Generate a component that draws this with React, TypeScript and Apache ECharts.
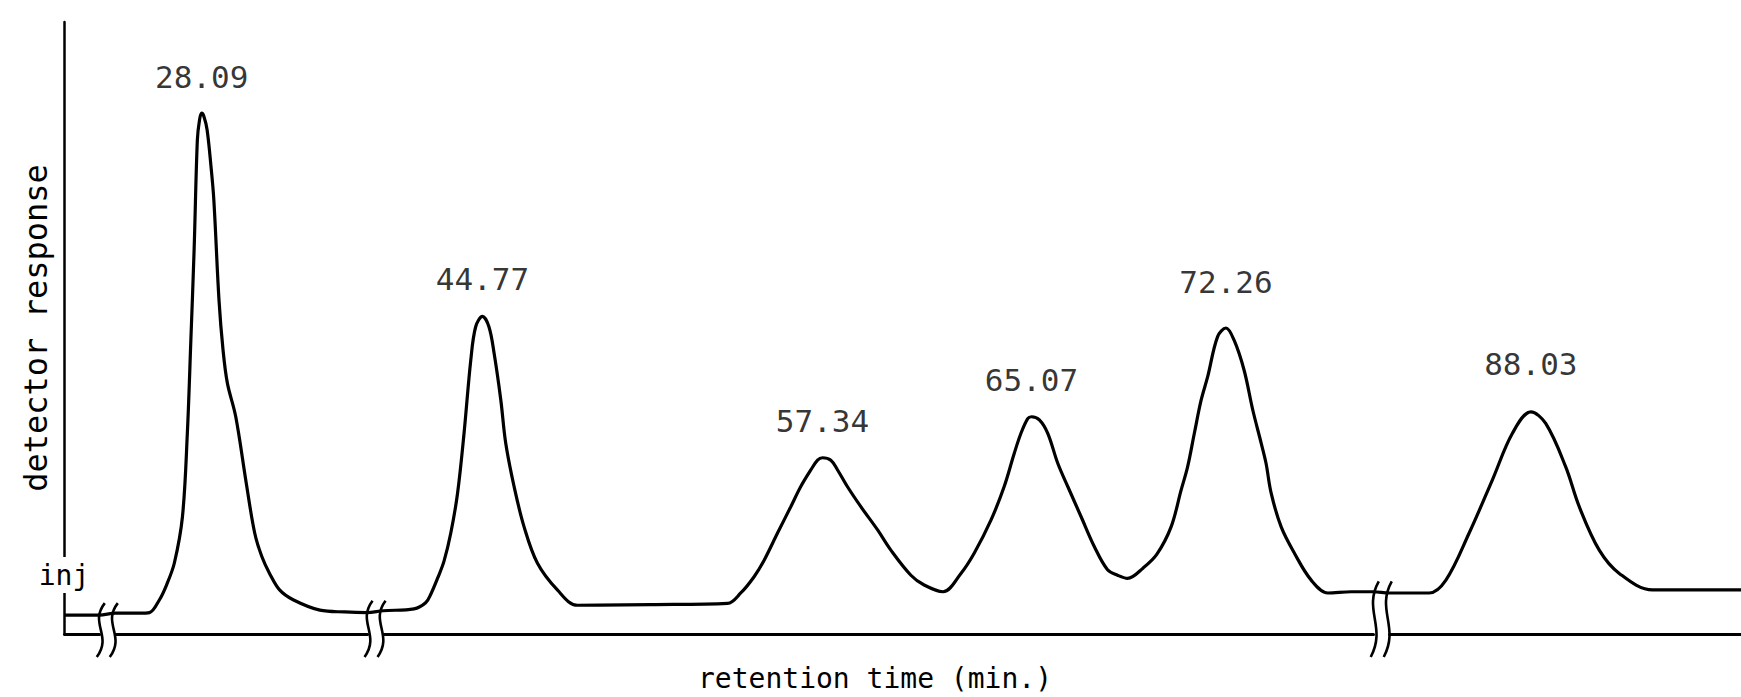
import { useEffect, useRef } from "react";
import * as echarts from "echarts";

// Retention time of each trace point, minutes
const traceTimes = [
  0, 1.3,
  24.9, 25.79, 26.16, 26.53, 26.79, 27.08, 27.38, 27.56, 27.69, 27.81, 27.93, 28.01, 28.09,
  28.17, 28.29, 28.43, 28.54, 28.73, 28.88, 29.04, 29.35, 29.74, 30.05, 30.31, 30.6, 30.97,
  31.47, 32.46, 33.38, 34.2,
  41.1, 42.24, 42.67, 42.86, 43.12, 43.35, 43.6, 43.85, 44.09, 44.34, 44.52, 44.77, 45.01,
  45.2, 45.45, 45.63, 45.94, 46.31, 46.8, 47.54, 48.28, 51.0, 53.83,
  54.32, 54.82, 55.19, 55.68, 56.17, 56.54, 56.91, 57.16, 57.34, 57.65, 57.9, 58.26, 58.76,
  59.38, 59.87, 60.61, 61.1, 61.8,
  62.46, 62.95, 63.57, 64.06, 64.43, 64.68, 64.93, 65.07, 65.36, 65.67, 66.04, 66.41, 66.9,
  67.39, 67.88, 68.25, 68.62,
  69.2, 69.7, 70.23, 70.6, 70.84, 71.09, 71.34, 71.58, 71.95, 72.26, 72.56, 72.93, 73.25,
  73.56, 73.74, 73.93, 74.3, 74.79, 75.41, 76.03, 76.89, 77.7,
  82.8, 84.27, 84.89, 85.75, 86.61, 87.35, 88.03, 88.58, 89.32, 89.82, 90.56, 91.3, 92.53, 95.8,
];

// Detector response at those times, relative units (0-100 of full scale)
const traceResponse = [
  3.1, 3.1,
  3.4, 3.4, 3.5, 5.6, 8.0, 11.6, 19.2, 32.8, 48.0, 62.7, 80.7, 84.0, 85.1,
  84.6, 82.4, 76.6, 70.9, 54.6, 46.4, 41.0, 35.5, 24.6, 16.5, 12.7, 9.9, 7.2,
  5.6, 3.9, 3.6, 3.5,
  3.8, 4.1, 5.1, 6.5, 9.2, 11.9, 16.5, 23.0, 32.8, 44.8, 50.2, 51.9, 50.2,
  45.9, 38.2, 31.2, 24.1, 17.5, 11.6, 7.2, 4.7, 4.8, 5.0,
  6.7, 9.4, 12.1, 16.5, 20.8, 24.1, 26.8, 28.4, 28.8, 28.4, 26.8, 24.1, 20.8,
  17.0, 13.7, 9.6, 8.0, 6.9,
  9.9, 13.2, 18.6, 24.1, 29.5, 32.8, 35.2, 35.5, 35.0, 32.8, 27.9, 24.1, 19.2,
  14.3, 10.5, 9.6, 9.1,
  10.8, 13.0, 17.5, 23.5, 27.3, 32.8, 38.2, 42.0, 48.6, 50.0, 48.0, 43.1, 36.6,
  31.2, 27.9, 23.0, 17.5, 13.2, 8.8, 6.7, 6.9, 6.9,
  6.7, 6.7, 8.8, 16.5, 25.2, 32.8, 36.3, 34.4, 27.3, 20.8, 13.7, 9.9, 7.2, 7.2,
];

// Labelled peaks: retention time (min) and apex response
const peakTimes = [28.09, 44.77, 57.34, 65.07, 72.26, 88.03];
const peakResponse = [85.1, 51.9, 28.8, 35.5, 50.0, 36.3];

// Stretches of the time axis that are left out (minutes)
const breakStarts = [1.3, 34.2, 77.7];
const breakEnds = [24.9, 41.1, 82.8];

const timeMin = 0;
const timeMax = 95.8;
const responseMax = 100;

// Space between each apex and its retention-time label, px
const peakLabelGap = [21, 22, 21, 21, 31, 32];

const INK = "#000";
const MONO = "'DejaVu Sans Mono', 'Liberation Mono', monospace";

export default function App() {
  const ref = useRef<HTMLDivElement>(null);

  useEffect(() => {
    const el = ref.current;
    if (!el) return;
    const chart = echarts.init(el, null, { renderer: "svg" });

    const trace = traceTimes.map((t, i) => [t, traceResponse[i]]);

    chart.setOption({
      animation: false,
      backgroundColor: "#ffffff",
      grid: { left: 64, right: 0, top: 22, bottom: 63, outerBoundsMode: "none" },
      xAxis: {
        type: "value",
        min: timeMin,
        max: timeMax,
        breaks: breakStarts.map((s, i) => ({ start: s, end: breakEnds[i], gap: 0.6 })),
        breakArea: { show: false },
        axisLine: { show: true, onZero: false, lineStyle: { color: INK, width: 3 } },
        axisTick: { show: false },
        axisLabel: { show: false },
        splitLine: { show: false },
        name: "retention time (min.)",
        nameLocation: "middle",
        nameGap: 30,
        nameTextStyle: {
          fontFamily: MONO,
          fontSize: 28,
          color: INK,
          padding: [0, 55, 0, 0],
        },
      },
      yAxis: {
        type: "value",
        min: 0,
        max: responseMax,
        axisLine: { show: true, lineStyle: { color: INK, width: 2.5 } },
        axisTick: { show: false },
        axisLabel: { show: false },
        splitLine: { show: false },
        name: "detector response",
        nameLocation: "middle",
        nameRotate: 90,
        nameGap: 12,
        nameTextStyle: { fontFamily: MONO, fontSize: 32, color: INK },
      },
      series: [
        {
          type: "line",
          data: trace,
          showSymbol: false,
          smooth: 0.35,
          silent: true,
          lineStyle: { color: INK, width: 3.2 },
          z: 3,
        },
        {
          type: "scatter",
          symbolSize: 0,
          silent: true,
          data: peakTimes.map((t, i) => ({
            value: [t, peakResponse[i]],
            label: { distance: peakLabelGap[i] },
          })),
          label: {
            show: true,
            position: "top",
            formatter: (p: any) => Number(p.value[0]).toFixed(2),
            fontFamily: MONO,
            fontSize: 31,
            color: INK,
          },
          z: 4,
        },
      ],
    });

    // Break marks drawn across the trace and the time axis, plus the injection mark
    const px = (t: number) => chart.convertToPixel({ xAxisIndex: 0 }, t) as number;
    const py = (r: number) => chart.convertToPixel({ yAxisIndex: 0 }, r) as number;
    const axisY = py(0);
    const responseAt = (t: number) => {
      const i = traceTimes.indexOf(t);
      return i >= 0 ? traceResponse[i] : 0;
    };

    const marks: any[] = [];
    breakStarts.forEach((s, i) => {
      const e = breakEnds[i];
      const cx = (px(s) + px(e)) / 2;
      const traceY = py((responseAt(s) + responseAt(e)) / 2);
      const top = traceY - 11;
      const bottom = axisY + 23;
      const h = bottom - top;
      [-6.5, 6.5].forEach((dx) => {
        const x = cx + dx;
        marks.push({
          type: "bezierCurve",
          z: 10,
          silent: true,
          shape: {
            x1: x + 4,
            y1: top,
            cpx1: x - 12,
            cpy1: top + h * 0.38,
            cpx2: x + 12,
            cpy2: top + h * 0.6,
            x2: x - 4,
            y2: bottom,
          },
          style: { stroke: INK, lineWidth: 2.6, fill: null },
        });
      });
    });

    marks.push({
      type: "text",
      z: 20,
      silent: true,
      x: px(timeMin),
      y: axisY - 59,
      style: {
        text: "inj",
        font: `28px ${MONO}`,
        fill: INK,
        align: "center",
        verticalAlign: "middle",
        backgroundColor: "#ffffff",
        padding: [4, 2],
      },
    });

    chart.setOption({ graphic: marks });

    return () => chart.dispose();
  }, []);

  return (
    <div
      ref={ref}
      style={{ position: "fixed", left: 0, top: 0, width: "1741px", height: "697px" }}
    />
  );
}
